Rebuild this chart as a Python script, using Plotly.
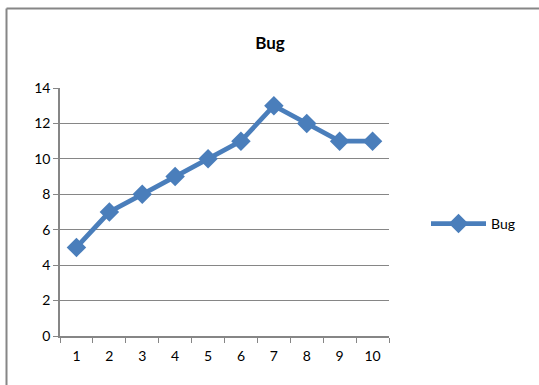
import plotly.graph_objects as go

categories = ["1", "2", "3", "4", "5", "6", "7", "8", "9", "10"]
bug_values = [5, 7, 8, 9, 10, 11, 13, 12, 11, 11]
y_ticks = [0, 2, 4, 6, 8, 10, 12, 14]

W, H = 539, 385
L, R, T, B = 60, 389, 88, 336

def px_x(px):
    return (px - L) / (R - L)

def px_y(py):
    return (B - py) / (B - T)

blue = "#4A7EBB"
grid = "#868686"
font = "Lato, Open Sans, sans-serif"

fig = go.Figure()
fig.add_trace(go.Scatter(
    x=categories, y=bug_values, name="Bug", mode="lines+markers",
    line=dict(color=blue, width=4.8),
    marker=dict(symbol="diamond", size=15, color=blue),
))

fig.update_layout(
    width=W, height=H,
    margin=dict(l=L, r=W - R, t=T, b=H - B),
    paper_bgcolor="white", plot_bgcolor="white",
    font=dict(family=font, size=14, color="#000000"),
    title=dict(text="<b>Bug</b>", x=270 / W, xref="container", xanchor="center",
               y=1 - 43 / H, yref="container", yanchor="middle",
               font=dict(family=font, size=17, color="#000000")),
    showlegend=True,
    legend=dict(x=px_x(426), y=px_y(224), xanchor="left", yanchor="middle",
                itemwidth=55, font=dict(family=font, size=14),
                bgcolor="rgba(0,0,0,0)"),
    xaxis=dict(type="category", tickson="boundaries", ticks="outside",
               ticklen=5, tickcolor=grid, tickwidth=1,
               showline=True, linecolor=grid, linewidth=1.5,
               showgrid=False, range=[-0.5, 9.5], fixedrange=True,
               ticklabelstandoff=6),
    yaxis=dict(range=[0, 14], tickvals=y_ticks, ticks="outside", ticklen=5,
               tickcolor=grid, tickwidth=1, showline=True, linecolor=grid,
               linewidth=1.5, showgrid=True, gridcolor=grid, gridwidth=1.2,
               zeroline=False, fixedrange=True),
    shapes=[
        dict(type="line", xref="paper", yref="paper",
             x0=px_x(6.5), y0=px_y(8.5), x1=px_x(539), y1=px_y(8.5),
             line=dict(color=grid, width=2)),
        dict(type="line", xref="paper", yref="paper",
             x0=px_x(6.5), y0=px_y(8.5), x1=px_x(6.5), y1=px_y(385),
             line=dict(color=grid, width=2)),
    ],
)

fig.write_html("out.html", config={"displayModeBar": False},
               post_script="document.body.style.margin='0';document.body.style.overflow='hidden';")
